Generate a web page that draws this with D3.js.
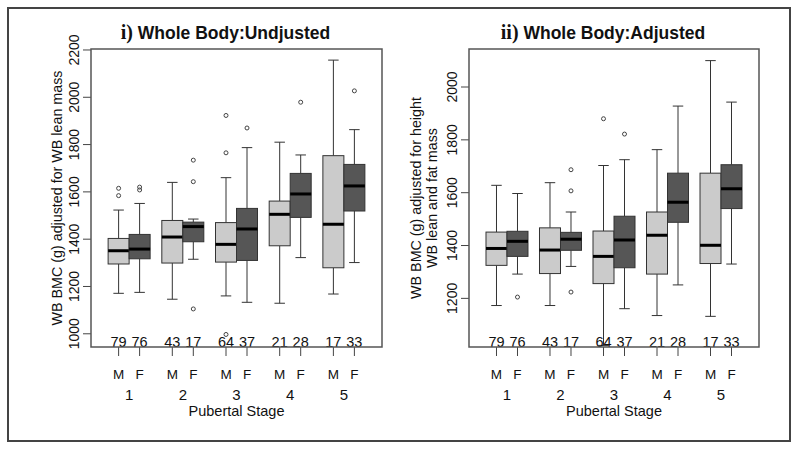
<!DOCTYPE html>
<html>

<head>
    <meta charset="utf-8">
    <script src="https://d3js.org/d3.v7.min.js"></script>
    <style>
        body { margin: 0; background: #fff; }
        text { font-family: "Liberation Sans", Arial, sans-serif; fill: #111; }
    </style>
</head>

<body>
    <script type="text/javascript">
        // boxes are ordered stage 1 M, stage 1 F, stage 2 M, stage 2 F ...
        const stages = ["1", "2", "3", "4", "5"];
        const sexes = ["M", "F"];
        const counts = [79, 76, 43, 17, 64, 37, 21, 28, 17, 33];

        // i) unadjusted
        const unadjLow = [1169, 1173, 1144, 1313, 1158, 1131, 1127, 1320, 1166, 1299];
        const unadjQ1 = [1293, 1315, 1297, 1387, 1301, 1308, 1370, 1490, 1277, 1517];
        const unadjMed = [1349, 1356, 1407, 1451, 1376, 1441, 1503, 1589, 1461, 1623];
        const unadjQ3 = [1401, 1418, 1477, 1470, 1468, 1528, 1559, 1676, 1751, 1714];
        const unadjHigh = [1521, 1549, 1638, 1483, 1658, 1785, 1808, 1754, 2155, 1861];
        const unadjOut = [[1582, 1613], [1606, 1618], [], [1103, 1641, 1732], [995, 1763, 1921],
                          [1868], [], [1977], [], [2025]];
        const unadjTicks = [1000, 1200, 1400, 1600, 1800, 2000, 2200];

        // ii) adjusted
        const adjLow = [1171, 1290, 1171, 1319, 1020, 1159, 1133, 1249, 1130, 1328];
        const adjQ1 = [1323, 1357, 1292, 1380, 1254, 1314, 1290, 1486, 1330, 1538];
        const adjMed = [1387, 1414, 1381, 1422, 1357, 1419, 1437, 1562, 1399, 1613];
        const adjQ3 = [1449, 1452, 1465, 1448, 1453, 1509, 1525, 1672, 1672, 1704];
        const adjHigh = [1626, 1595, 1636, 1525, 1701, 1723, 1761, 1926, 2098, 1941];
        const adjOut = [[], [1203], [], [1222, 1605, 1685], [1878], [1820], [], [], [], []];
        const adjTicks = [1200, 1400, 1600, 1800, 2000];

        const fills = { M: "#cbcbcb", F: "#565656" };

        let svg = d3.select("body")
            .append("svg")
            .attr("width", 800)
            .attr("height", 454);

        svg.append("rect")
            .attr("x", 8).attr("y", 8)
            .attr("width", 782).attr("height", 433)
            .attr("fill", "none")
            .attr("stroke", "#444")
            .attr("stroke-width", 2);

        function drawPanel(p) {
            let g = svg.append("g");

            let y = d3.scaleLinear().domain(p.domain).range([p.bottom, p.top]);
            let xStage = d3.scalePoint().domain(stages).range([p.left, p.right]).padding(0.71);
            let xSex = d3.scaleBand().domain(sexes).range([-21, 21]);
            let bw = xSex.bandwidth();

            let boxes = [];
            stages.forEach((s, i) => {
                sexes.forEach((sx, j) => {
                    let k = i * 2 + j;
                    boxes.push({
                        stage: s, sex: sx, n: counts[k],
                        x: xStage(s) + xSex(sx) + bw / 2,
                        low: p.low[k], q1: p.q1[k], med: p.med[k], q3: p.q3[k], high: p.high[k],
                        out: p.out[k]
                    });
                });
            });

            // title
            let title = g.append("text")
                .attr("x", (p.left + p.right) / 2 - 11)
                .attr("y", 39)
                .attr("text-anchor", "middle")
                .style("font-weight", "bold");
            title.append("tspan")
                .style("font-family", "'Liberation Serif', 'Times New Roman', serif")
                .style("font-size", "20px")
                .text(p.num);
            title.append("tspan")
                .style("font-size", "17.5px")
                .text(" " + p.title);

            // y axis
            let yAxis = g.append("g")
                .attr("transform", `translate(${p.left},0)`)
                .call(d3.axisLeft(y).tickValues(p.ticks).tickSize(8).tickFormat(d3.format("d")));
            yAxis.select(".domain").remove();
            yAxis.selectAll("line").attr("stroke", "#444");
            yAxis.selectAll("text")
                .attr("transform", "rotate(-90)")
                .attr("x", 0).attr("y", -12).attr("dy", 0)
                .attr("text-anchor", "middle")
                .style("font-family", "'Liberation Sans', Arial, sans-serif")
                .style("font-size", "14px")
                .attr("fill", "#111");

            // y label
            let yl = g.append("text")
                .attr("transform", `translate(${p.labelX},${(p.top + p.bottom) / 2}) rotate(-90)`)
                .attr("text-anchor", "middle")
                .style("font-size", "14.3px");
            p.ylabel.forEach((line, i) => {
                yl.append("tspan").attr("x", 0).attr("dy", i === 0 ? 0 : 16).text(line);
            });

            // whiskers
            let bx = g.selectAll(".box").data(boxes).enter().append("g").attr("class", "box");
            bx.append("line")
                .attr("x1", d => d.x).attr("x2", d => d.x)
                .attr("y1", d => y(d.q3)).attr("y2", d => y(d.high))
                .attr("stroke", "#333");
            bx.append("line")
                .attr("x1", d => d.x).attr("x2", d => d.x)
                .attr("y1", d => y(d.q1)).attr("y2", d => y(d.low))
                .attr("stroke", "#333");
            bx.append("line")
                .attr("x1", d => d.x - bw / 4).attr("x2", d => d.x + bw / 4)
                .attr("y1", d => y(d.high)).attr("y2", d => y(d.high))
                .attr("stroke", "#333");
            bx.append("line")
                .attr("x1", d => d.x - bw / 4).attr("x2", d => d.x + bw / 4)
                .attr("y1", d => y(d.low)).attr("y2", d => y(d.low))
                .attr("stroke", "#333");
            bx.append("rect")
                .attr("x", d => d.x - bw / 2)
                .attr("width", bw)
                .attr("y", d => y(d.q3))
                .attr("height", d => y(d.q1) - y(d.q3))
                .attr("fill", d => fills[d.sex])
                .attr("stroke", "#333");
            bx.append("line")
                .attr("x1", d => d.x - bw / 2).attr("x2", d => d.x + bw / 2)
                .attr("y1", d => y(d.med)).attr("y2", d => y(d.med))
                .attr("stroke", "#000")
                .attr("stroke-width", 3);
            bx.selectAll("circle")
                .data(d => d.out.map(v => ({ x: d.x, v: v })))
                .enter().append("circle")
                .attr("cx", d => d.x).attr("cy", d => y(d.v))
                .attr("r", 2)
                .attr("fill", "none")
                .attr("stroke", "#444");

            // counts
            bx.append("text")
                .attr("x", d => d.x)
                .attr("y", p.bottom - 0.5)
                .attr("text-anchor", "middle")
                .style("font-size", "14.5px")
                .text(d => d.n);

            // x ticks + labels
            bx.append("line")
                .attr("x1", d => d.x).attr("x2", d => d.x)
                .attr("y1", p.bottom).attr("y2", p.bottom + 9)
                .attr("stroke", "#444");
            bx.append("text")
                .attr("x", d => d.x)
                .attr("y", 379)
                .attr("text-anchor", "middle")
                .style("font-size", "13.5px")
                .text(d => d.sex);

            g.selectAll(".stage").data(stages).enter().append("text")
                .attr("x", d => xStage(d))
                .attr("y", 400)
                .attr("text-anchor", "middle")
                .style("font-size", "15px")
                .text(d => d);

            g.append("text")
                .attr("x", (p.left + p.right) / 2)
                .attr("y", 416)
                .attr("text-anchor", "middle")
                .style("font-size", "14.5px")
                .text("Pubertal Stage");

            // frame
            g.append("rect")
                .attr("x", p.left).attr("y", p.top)
                .attr("width", p.right - p.left).attr("height", p.bottom - p.top)
                .attr("fill", "none")
                .attr("stroke", "#555")
                .attr("stroke-width", 1.5);
        }

        drawPanel({
            left: 91, right: 382, top: 49, bottom: 347,
            domain: [942, 2202], ticks: unadjTicks,
            low: unadjLow, q1: unadjQ1, med: unadjMed, q3: unadjQ3, high: unadjHigh, out: unadjOut,
            num: "i)", title: "Whole Body:Undjusted",
            labelX: 62, ylabel: ["WB BMC (g) adjusted for WB lean mass"]
        });

        drawPanel({
            left: 469, right: 759, top: 49, bottom: 347,
            domain: [1014, 2142], ticks: adjTicks,
            low: adjLow, q1: adjQ1, med: adjMed, q3: adjQ3, high: adjHigh, out: adjOut,
            num: "ii)", title: "Whole Body:Adjusted",
            labelX: 421, ylabel: ["WB BMC (g) adjusted for height", "WB lean and fat mass"]
        });
    </script>
</body>

</html>
